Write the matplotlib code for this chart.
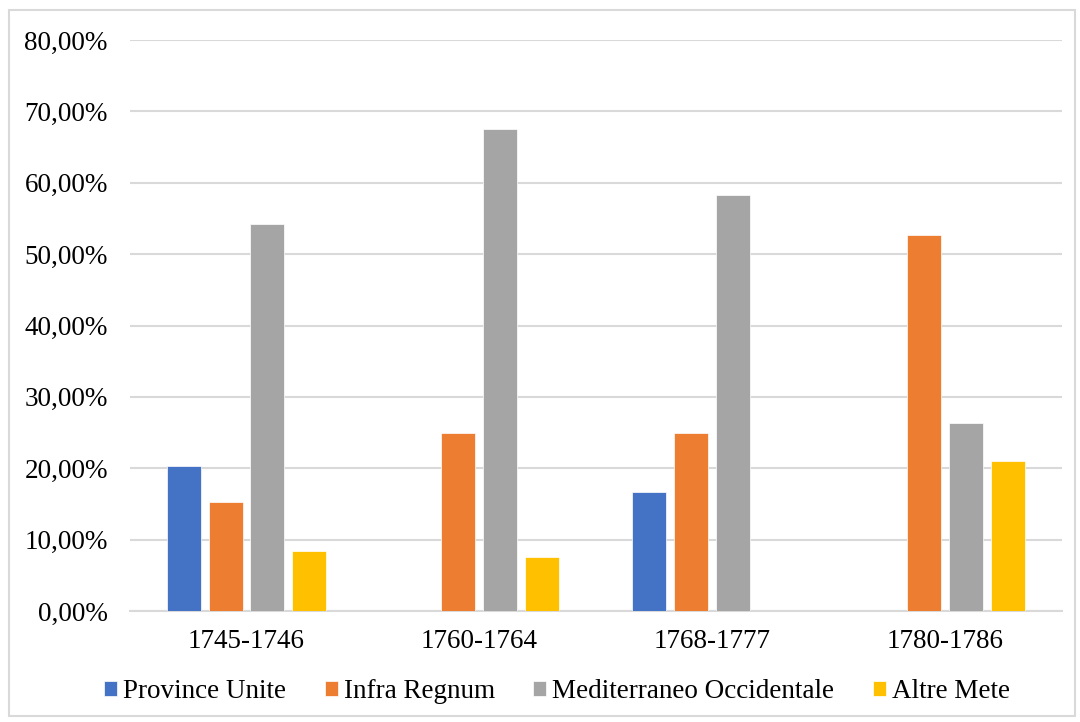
import matplotlib.pyplot as plt
import numpy as np
from matplotlib.patches import Rectangle
from matplotlib.ticker import FuncFormatter

# Data
periods = ['1745-1746', '1760-1764', '1768-1777', '1780-1786']
province_unite = [20.34, 0.0, 16.67, 0.0]
infra_regnum = [15.25, 25.0, 25.0, 52.63]
mediterraneo_occ = [54.24, 67.5, 58.33, 26.32]
altre_mete = [8.47, 7.5, 0.0, 21.05]

series = [
    ('Province Unite', province_unite, '#4472C4'),
    ('Infra Regnum', infra_regnum, '#ED7D31'),
    ('Mediterraneo Occidentale', mediterraneo_occ, '#A5A5A5'),
    ('Altre Mete', altre_mete, '#FFC000'),
]

plt.rcParams['font.family'] = ['Liberation Serif', 'DejaVu Serif']

fig = plt.figure(figsize=(10.8, 7.22), dpi=100)
ax = fig.add_axes([0.1204, 0.1537, 0.8626, 0.7909])

# figure border
fig.patches.append(Rectangle((0.008, 0.008), 0.987, 0.978, transform=fig.transFigure,
                             fill=False, edgecolor='#D9D9D9', linewidth=1.5))

x = np.arange(len(periods))
pitch = 0.18
width = 0.146
for i, (name, vals, col) in enumerate(series):
    ax.bar(x + (i - 1.5) * pitch, vals, width, color=col, label=name,
           edgecolor='white', linewidth=0.5, zorder=3)

ax.set_xlim(-0.5, len(periods) - 0.5)
ax.set_ylim(0, 80)
ax.set_yticks(np.arange(0, 81, 10))
ax.yaxis.set_major_formatter(FuncFormatter(lambda v, p: f'{v:.2f}%'.replace('.', ',')))
ax.set_xticks(x)
ax.set_xticklabels(periods)

ax.grid(axis='y', color='#D9D9D9', linewidth=1.5, zorder=0)
for s in ['top', 'right', 'left']:
    ax.spines[s].set_visible(False)
ax.spines['bottom'].set_color('#D9D9D9')
ax.spines['bottom'].set_linewidth(1.5)
ax.tick_params(axis='both', length=0)
ax.tick_params(axis='y', labelsize=19.5, pad=16)
ax.tick_params(axis='x', labelsize=19.5, pad=13)

fig.legend(loc='center', bbox_to_anchor=(0.5157, 0.042), ncol=4, frameon=False,
           fontsize=19.5, handlelength=0.48, handleheight=0.48, handletextpad=0.22,
           columnspacing=1.43)

fig.savefig('out.png', dpi=100)
